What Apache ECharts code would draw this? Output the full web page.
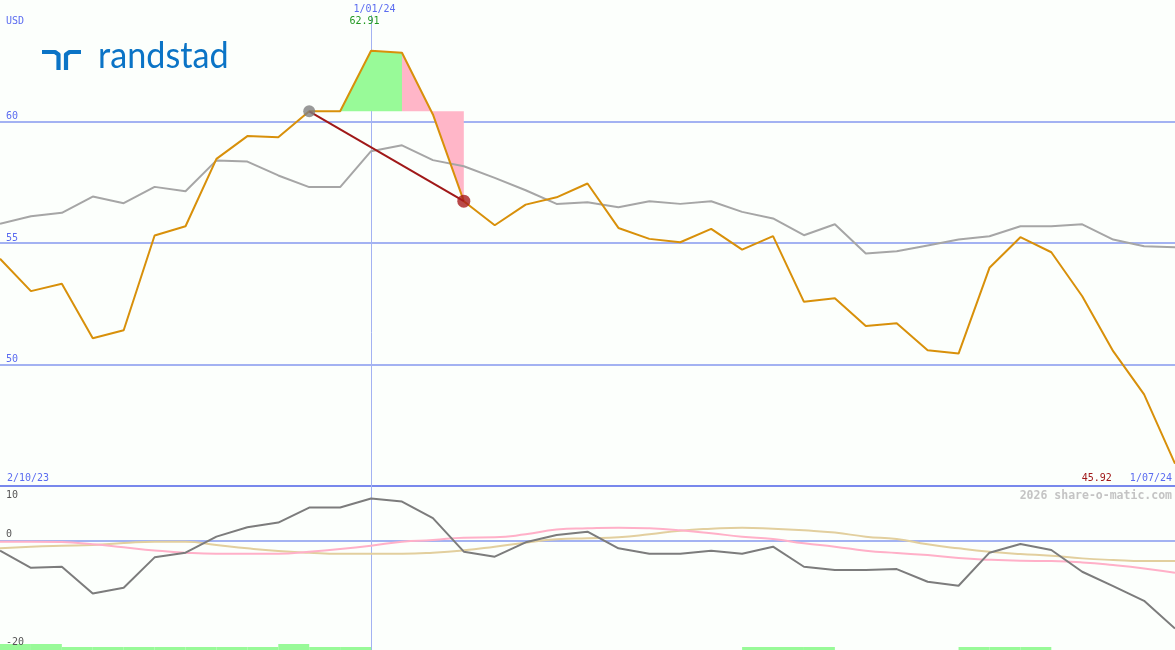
<!DOCTYPE html>
<html><head><meta charset="utf-8">
<script src="https://cdn.jsdelivr.net/npm/echarts@6/dist/echarts.min.js"></script>
<style>html,body{margin:0;padding:0;background:#fcfffc}#c{width:1175px;height:650px}</style>
</head><body><div id="c"></div>
<script>
// ---------- data ----------
const categories = [
  '2/10/23','9/10/23','16/10/23','23/10/23','30/10/23','6/11/23','13/11/23','20/11/23','27/11/23',
  '4/12/23','11/12/23','18/12/23',
  '1/01/24','8/01/24','15/01/24','22/01/24','29/01/24','5/02/24','12/02/24','19/02/24','26/02/24',
  '4/03/24','11/03/24','18/03/24','25/03/24','1/04/24','8/04/24','15/04/24','22/04/24','29/04/24',
  '6/05/24','13/05/24','20/05/24','27/05/24','3/06/24','10/06/24','17/06/24','24/06/24','1/07/24'
];
const price = [54.35,53.02,53.32,51.08,51.41,55.31,55.69,58.46,59.40,59.35,60.42,60.42,62.91,62.83,60.29,56.72,
  55.73,56.58,56.88,57.45,55.62,55.17,55.03,55.58,54.73,55.28,52.58,52.73,51.58,51.70,50.59,50.45,53.98,55.24,
  54.62,52.81,50.55,48.77,45.92];
const sector = [55.79,56.10,56.24,56.91,56.64,57.31,57.13,58.40,58.35,57.78,57.30,57.30,58.78,59.02,58.41,58.16,
  57.68,57.17,56.61,56.68,56.47,56.72,56.61,56.72,56.28,56.01,55.32,55.77,54.57,54.66,54.90,55.14,55.28,55.69,
  55.69,55.77,55.14,54.87,54.83];
const oscillator = [-1.87,-5.05,-4.86,-9.84,-8.78,-3.11,-2.24,0.75,2.50,3.37,6.17,6.17,7.85,7.29,4.19,-2.05,
  -2.99,-0.31,1.07,1.68,-1.43,-2.43,-2.43,-1.87,-2.43,-1.12,-4.86,-5.48,-5.48,-5.29,-7.66,-8.41,-2.24,-0.62,
  -1.74,-5.79,-8.47,-11.21,-16.38];
const oscPink = [-0.19,-0.19,-0.25,-0.68,-1.24,-1.81,-2.24,-2.43,-2.43,-2.43,-2.05,-1.55,-0.93,-0.19,0.12,0.56,
  0.62,1.18,2.06,2.30,2.43,2.30,1.93,1.37,0.75,0.31,-0.50,-1.12,-1.87,-2.30,-2.68,-3.23,-3.55,-3.74,-3.80,-4.05,
  -4.54,-5.17,-5.98];
const oscTan = [-1.43,-1.12,-0.93,-0.80,-0.45,-0.19,-0.19,-0.80,-1.43,-1.93,-2.24,-2.43,-2.43,-2.43,-2.24,-1.80,
  -1.12,-0.37,0.25,0.44,0.62,1.18,1.87,2.24,2.43,2.24,1.93,1.50,0.75,0.31,-0.68,-1.43,-2.05,-2.49,-2.80,-3.30,
  -3.60,-3.80,-3.80];
const signal = [2,2,1,1,1,1,1,1,1,2,1,1,0,0,0,0,0,0,0,0,0,0,0,0,1,1,1,0,0,0,0,1,1,1,0,0,0,0];
const mainTicks = [50,55,60];
const lowerTicks = [10,0,-20];
const currency = 'USD';
const brand = 'randstad';
const watermark = '2026 share-o-matic.com';
const focusIndex = 12;      // highlighted date
const markFrom = 10, markTo = 15;
const riseRange = [11,13], fallRange = [13,15];

// ---------- helpers ----------
const BLUE = '#5b6cf0', GRID = '#a3b2f2', SEP = '#7888ec';
const MONO = '"DejaVu Sans Mono", monospace';
const lastIdx = categories.length - 1;
const level = price[markFrom];
const pick = (arr, a, b) => arr.map((v, i) => (i >= a && i <= b ? v : null));
const fmt = v => v.toFixed(2);

const chart = echarts.init(document.getElementById('c'), null, {renderer: 'canvas'});
const baseX = (grid, extra) => Object.assign({
  type: 'category', gridIndex: grid, data: categories, boundaryGap: false,
  axisLine: {show: false}, axisTick: {show: false}, splitLine: {show: false}
}, extra);

const option = {
  animation: false,
  backgroundColor: '#fcfffc',
  grid: [
    {left: 0, right: 0, top: 0, height: 486},
    {left: 0, right: 0, top: 487, height: 161}
  ],
  xAxis: [
    baseX(0, {position: 'bottom', axisLabel: {inside: true, interval: (i) => i === 0, align: 'left', margin: 3,
      padding: [0, 0, 0, 7], color: BLUE, fontFamily: MONO, fontSize: 10}}),
    baseX(1, {position: 'bottom', axisLabel: {show: false}}),
    baseX(0, {position: 'bottom', axisLabel: {inside: true, interval: (i) => i === lastIdx, align: 'right', margin: 3,
      padding: [0, 3, 0, 0], color: BLUE, fontFamily: MONO, fontSize: 10,
      formatter: (v) => '{r|' + fmt(price[lastIdx]) + '}   ' + v,
      rich: {r: {color: '#a01818', fontFamily: MONO, fontSize: 10}}}}),
    baseX(0, {position: 'top', axisLabel: {inside: true, interval: (i) => i === focusIndex, align: 'center',
      margin: 4, padding: [0, 0, 0, 7], color: BLUE, fontFamily: MONO, fontSize: 10}})
  ],
  yAxis: [
    {type: 'value', gridIndex: 0, position: 'left', min: 45, max: 65, interval: 5,
      axisLine: {show: false}, axisTick: {show: false},
      axisLabel: {inside: true, margin: 6, verticalAlign: 'bottom', color: BLUE, fontFamily: MONO, fontSize: 10,
        formatter: (v) => (mainTicks.includes(v) ? String(v) : '')},
      splitLine: {show: true, lineStyle: {width: 2, color: [SEP, GRID, GRID, GRID, 'rgba(0,0,0,0)']}}},
    {type: 'value', gridIndex: 1, position: 'left', min: -20, max: 10, interval: 10, z: 2,
      axisLine: {show: false}, axisTick: {show: false},
      axisLabel: {inside: true, margin: 6, verticalAlign: 'bottom', padding: [0, 0, 1, 0], color: '#555',
        fontFamily: MONO, fontSize: 10,
        formatter: (v) => (lowerTicks.includes(v) && v !== lowerTicks[0] ? String(v) : '')},
      splitLine: {show: true, lineStyle: {width: 2,
        color: ['rgba(0,0,0,0)', 'rgba(0,0,0,0)', GRID, 'rgba(0,0,0,0)']}}},
    {type: 'value', gridIndex: 1, position: 'left', offset: 0, min: -20, max: 10, interval: 10,
      axisLine: {show: false}, axisTick: {show: false}, splitLine: {show: false},
      axisLabel: {inside: true, margin: 6, verticalAlign: 'top', padding: [3, 0, 0, 0], color: '#555',
        fontFamily: MONO, fontSize: 10, formatter: (v) => (v === lowerTicks[0] ? String(v) : '')}}
  ],
  series: [
    {type: 'line', xAxisIndex: 0, yAxisIndex: 0, data: pick(price, riseRange[0], riseRange[1]),
      symbol: 'none', lineStyle: {width: 0}, areaStyle: {color: '#98fa98', opacity: 1, origin: level}, z: 1},
    {type: 'line', xAxisIndex: 0, yAxisIndex: 0, data: pick(price, fallRange[0], fallRange[1]),
      symbol: 'none', lineStyle: {width: 0}, areaStyle: {color: '#ffb6c8', opacity: 1, origin: level}, z: 1},
    {type: 'line', xAxisIndex: 0, yAxisIndex: 0, data: sector, symbol: 'none',
      lineStyle: {width: 2, color: '#a6a6a6'}, z: 3},
    {type: 'line', xAxisIndex: 0, yAxisIndex: 0, data: price, symbol: 'none',
      lineStyle: {width: 2, color: '#d8900a'}, z: 4},
    {type: 'line', xAxisIndex: 0, yAxisIndex: 0, data: price.map((v, i) => (i === markFrom || i === markTo ? v : null)),
      connectNulls: true, symbol: 'none', lineStyle: {width: 2, color: '#a01818'}, z: 5},
    {type: 'scatter', xAxisIndex: 0, yAxisIndex: 0, z: 6,
      data: [
        {value: [markFrom, price[markFrom]], symbolSize: 12, itemStyle: {color: '#808080'}},
        {value: [markTo, price[markTo]], symbolSize: 13, itemStyle: {color: '#a81c1c'}}
      ]},
    {type: 'line', xAxisIndex: 1, yAxisIndex: 1, data: oscTan, smooth: true, symbol: 'none',
      lineStyle: {width: 2, color: '#e2cf9e'}, z: 3},
    {type: 'line', xAxisIndex: 1, yAxisIndex: 1, data: oscPink, smooth: true, symbol: 'none',
      lineStyle: {width: 2, color: '#ffb0c8'}, z: 3},
    {type: 'line', xAxisIndex: 1, yAxisIndex: 1, data: oscillator, symbol: 'none',
      lineStyle: {width: 2, color: '#7c7c7c'}, z: 4},
    {type: 'custom', xAxisIndex: 1, yAxisIndex: 1, clip: false, z: 1,
      data: signal.map((v, i) => [i, v]),
      renderItem: (params, api) => {
        const i = api.value(0), lvl = api.value(1);
        if (!lvl) return null;
        const p0 = api.coord([i, -20]), p1 = api.coord([i + 1, -20]);
        const h = lvl * 3;
        return {type: 'rect', shape: {x: p0[0], y: p0[1] + 2 - h, width: p1[0] - p0[0], height: h},
          style: {fill: '#98fa98'}};
      }}
  ]
};
chart.setOption(option);

const fx = Math.round(chart.convertToPixel({xAxisIndex: 0}, focusIndex)) + 0.5;
const blueLogo = '#0b74c6';
chart.setOption({
  graphic: [
    {type: 'line', z: 0, silent: true, shape: {x1: fx, y1: 15, x2: fx, y2: 650},
      style: {stroke: GRID, lineWidth: 1}},
    {type: 'text', x: 6, y: 21, style: {text: currency, fill: BLUE, font: '10px ' + MONO, verticalAlign: 'middle'}},
    {type: 'text', x: fx - 7, y: 21, style: {text: fmt(price[focusIndex]), fill: '#229922',
      font: '10px ' + MONO, align: 'center', verticalAlign: 'middle'}},
    {type: 'text', x: 1172, y: 496, style: {text: watermark, fill: '#c4c4c4',
      font: 'bold 11.5px ' + MONO, align: 'right', verticalAlign: 'middle'}},
    {type: 'polyline', shape: {points: [[42, 52], [55, 52], [58.5, 54.5], [58.5, 70]]},
      style: {stroke: blueLogo, lineWidth: 4.2, fill: null, lineJoin: 'round'}},
    {type: 'polyline', shape: {points: [[66, 70], [66, 54.5], [69.5, 52], [81, 52]]},
      style: {stroke: blueLogo, lineWidth: 4.2, fill: null, lineJoin: 'round'}},
    {type: 'text', x: 98, y: 56, scaleX: 0.95, style: {text: brand, fill: blueLogo,
      font: '36px Lato, "Open Sans", sans-serif', verticalAlign: 'middle'}}
  ]
});
</script></body></html>
